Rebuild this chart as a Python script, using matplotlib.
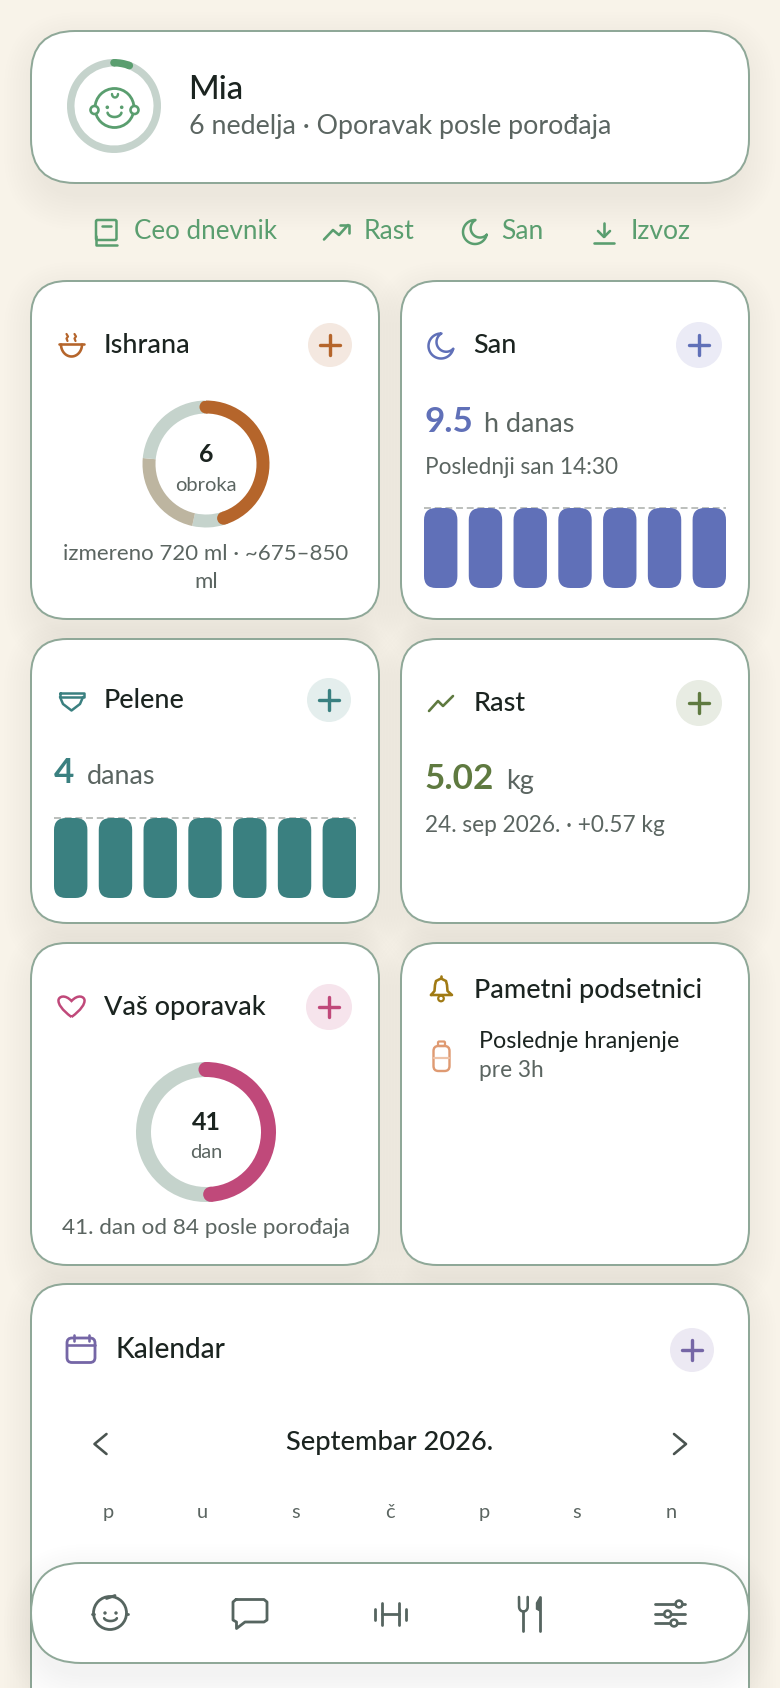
import numpy as np
import matplotlib
matplotlib.use('Agg')
import matplotlib.pyplot as plt
from matplotlib.patches import FancyBboxPatch, Circle, Polygon, PathPatch
from matplotlib.path import Path

W, H = 780, 1688
DPI = 100

# data
feed_parts = [0.45, 0.085, 0.23, 0.235]
feed_colors = ['#b5652b', '#c5d3cc', '#bdb5a0', '#c5d3cc']
feed_count = '6'
age_weeks = [6, 98]
recovery_days = [41, 43]
sleep_bars = [9.5, 9.5, 9.5, 9.5, 9.5, 9.5, 9.5]
sleep_goal = 9.5
diaper_bars = [4, 4, 4, 4, 4, 4, 4]
diaper_goal = 4
weekdays = ['p', 'u', 's', 'č', 'p', 's', 'n']
week_x = [108, 202, 296, 390, 484, 577, 671]

BG = '#f8f3e9'
BORDER = '#8fa898'
DARK = '#1b2420'
GREY = '#5b6561'
GREEN = '#5a9e6f'
ORANGE = '#b5652b'
BLUE = '#6070b8'
TEAL = '#3a8080'
OLIVE = '#5f7a40'
PINK = '#c0497a'
PURPLE = '#7566a6'
NAVICON = '#566560'
FONT = 'Lato'

fig = plt.figure(figsize=(W / DPI, H / DPI), dpi=DPI, facecolor=BG)
ax = fig.add_axes([0, 0, 1, 1])
ax.set_xlim(0, W)
ax.set_ylim(H, 0)
ax.axis('off')


def text(x, y, s, px, color=DARK, weight='normal', ha='left', z=5):
    ax.text(x, y, s, fontsize=px * 72 / DPI, color=color, fontweight=weight, ha=ha,
            va='baseline', family=FONT, zorder=z)


def line(xs, ys, color, lw=2.5, z=5, close=False):
    if close:
        xs = list(xs) + [xs[0]]
        ys = list(ys) + [ys[0]]
    ax.plot(xs, ys, color=color, lw=lw * 72 / DPI, solid_capstyle='round',
            solid_joinstyle='round', zorder=z)


def rrect(x0, y0, x1, y1, r, fc='none', ec='none', lw=0, z=5, alpha=None):
    p = FancyBboxPatch((x0, y0), x1 - x0, y1 - y0, boxstyle='round,pad=0,rounding_size=%g' % r,
                       fc=fc, ec=ec, lw=lw * 72 / DPI, zorder=z, alpha=alpha)
    ax.add_patch(p)


def card(x0, y0, x1, y1, r=36, z=2):
    # soft shadow made from stacked translucent boxes
    for s in range(0, 34, 3):
        rrect(x0 - s + 6, y0 - s + 14, x1 + s - 6, y1 + s + 14, r + s, fc='#6b5f3a', z=z - 0.5, alpha=0.004)
    rrect(x0, y0, x1, y1, r, fc='white', ec=BORDER, lw=2, z=z)


def plus(cx, cy, r, bg, color, z=5):
    ax.add_patch(Circle((cx, cy), r, fc=bg, ec='none', zorder=z))
    line([cx - 10, cx + 10], [cy, cy], color, 3.4, z + 0.1)
    line([cx, cx], [cy - 10, cy + 10], color, 3.4, z + 0.1)


def moon(cx, cy, R, color, lw=2.5):
    ix, iy = cx + 0.42 * R, cy - 0.32 * R
    r = 0.78 * R
    d = np.hypot(ix - cx, iy - cy)
    phi = np.arctan2(iy - cy, ix - cx)
    a = (R ** 2 - r ** 2 + d ** 2) / (2 * d)
    al = np.arccos(a / R)
    be = np.arccos((d - a) / r)
    t1 = np.linspace(phi + al, phi - al + 2 * np.pi, 60)
    t2 = np.linspace(phi + np.pi + be, phi + np.pi - be, 40)
    xs = np.r_[cx + R * np.cos(t1), ix + r * np.cos(t2)]
    ys = np.r_[cy + R * np.sin(t1), iy + r * np.sin(t2)]
    line(xs, ys, color, lw, close=True)


def inset(x0, y0, x1, y1):
    a = fig.add_axes([x0 / W, 1 - y1 / H, (x1 - x0) / W, (y1 - y0) / H])
    a.set_facecolor('none')
    a.axis('off')
    a.patch.set_alpha(0)
    return a


def donut(cx, cy, R, thick, parts, colors, cap_color=None, cap_to=None):
    a = inset(cx - R, cy - R, cx + R, cy + R)
    a.pie(parts, colors=colors, startangle=90, counterclock=False, radius=1,
          wedgeprops=dict(width=thick / R, linewidth=0))
    a.set_xlim(-1, 1)
    a.set_ylim(-1, 1)
    a.set_aspect('equal')
    mid = 1 - thick / R / 2
    for f in (0, cap_to):
        t = np.pi / 2 - 2 * np.pi * f
        a.add_patch(Circle((mid * np.cos(t), mid * np.sin(t)), thick / R / 2, fc=cap_color, ec='none', zorder=5))


def week_bars(x0, y0, x1, y1, values, goal, color):
    a = inset(x0, y0, x1, y1)
    bw = 33.4
    step = (x1 - x0 - bw) / 6
    half = bw / 2 / step
    days = np.arange(len(values))
    a.set_xlim(-half, 6 + half)
    a.set_ylim(0, goal)
    a.axhline(goal, color='#a9adaa', lw=1.1, ls=(0, (4.5, 2.5)), clip_on=False, zorder=1)
    bars = a.bar(days, values, width=2 * half, color=color)
    round_x = 12 / step
    aspect = (12 * goal / (y1 - y0)) / round_x
    for b in bars:
        a.add_patch(FancyBboxPatch((b.get_x(), b.get_y()), b.get_width(), b.get_height(),
                                   boxstyle='round,pad=0,rounding_size=%g' % round_x,
                                   mutation_aspect=aspect, fc=color, ec='none', zorder=3))
        b.remove()


# cards
card(31, 1284, 749, 1760, z=2)
card(31, 31, 749, 183, r=44)
card(31, 281, 379, 619)
card(401, 281, 749, 619)
card(31, 639, 379, 923)
card(401, 639, 749, 923)
card(31, 943, 379, 1265)
card(401, 943, 749, 1265)

# header
donut(114, 106, 47, 7.5, age_weeks, [GREEN, '#c5d3cc'], cap_color=GREEN, cap_to=age_weeks[0] / sum(age_weeks))
ax.add_patch(Circle((114.5, 108), 19.5, fc='white', ec=GREEN, lw=2.8 * 72 / DPI, zorder=5))
ax.add_patch(Circle((94.5, 110), 4, fc='white', ec=GREEN, lw=2.6 * 72 / DPI, zorder=5.1))
ax.add_patch(Circle((134.5, 110), 4, fc='white', ec=GREEN, lw=2.6 * 72 / DPI, zorder=5.1))
t = np.linspace(0, np.pi, 12)
line(115 + 3 * np.cos(t), 94 + 3.5 * np.sin(t), GREEN, 2.4)
ax.add_patch(Circle((107.3, 107.3), 1.8, fc=GREEN, zorder=5))
ax.add_patch(Circle((121.7, 107.3), 1.8, fc=GREEN, zorder=5))
t = np.linspace(0.15, np.pi - 0.15, 20)
line(114.5 + 7 * np.cos(t), 112 + 5 * np.sin(t), GREEN, 2.6)
text(188, 99, 'Mia', 33, DARK, 'medium')
text(189, 134, '6 nedelja · Oporavak posle porođaja', 26.8, GREY)

# quick links
text(134, 239, 'Ceo dnevnik', 26, GREEN)
text(364, 239, 'Rast', 26.5, GREEN)
text(501, 239, 'San', 26.5, GREEN)
text(631, 239, 'Izvoz', 26.5, GREEN)
rrect(96, 220, 116.5, 240, 1.5, ec=GREEN, lw=2.5)
line([96, 96, 116.5], [236, 244.5, 244.5], GREEN, 2.5)
line([102, 111], [226, 226], GREEN, 2.5)
line([324, 333, 339, 348], [239.5, 230, 235, 225], GREEN, 2.6)
line([340, 348.5, 348.5], [225, 225, 233], GREEN, 2.6)
moon(475, 232, 12, GREEN, 2.5)
line([604, 604], [223, 236], GREEN, 2.6)
line([598, 604, 610], [231, 237, 231], GREEN, 2.6)
line([594, 614], [242.5, 242.5], GREEN, 2.6)

# Ishrana
t = np.linspace(0, np.pi, 30)
line([58.5, 84], [344, 344], ORANGE, 2.6)
line(71.5 + 10.5 * np.cos(t), 344.5 + 12 * np.sin(t), ORANGE, 2.6)
for sx in (66.5, 74.5):
    line([sx, sx + 1.5, sx, sx + 1], [334, 336.5, 338.5, 341], ORANGE, 2.2)
text(104, 353, 'Ishrana', 27, DARK, 'medium')
plus(330, 345, 22, '#f4e8e0', ORANGE)
donut(206, 464, 63.5, 13, feed_parts, feed_colors, cap_color=ORANGE, cap_to=feed_parts[0])
text(206, 462, feed_count, 25, DARK, 'bold', ha='center')
text(206, 491, 'obroka', 20.2, GREY, ha='center')
text(206, 560, 'izmereno 720 ml · ~675–850', 22.3, GREY, ha='center')
text(206, 588, 'ml', 22.3, GREY, ha='center')

# San
moon(441, 346, 12.5, BLUE, 2.5)
text(473, 353, 'San', 27, DARK, 'medium')
plus(699, 345, 23, '#ebebf6', BLUE)
text(424, 432, '9.5', 35, BLUE, 'bold')
text(484, 432, 'h danas', 27, GREY)
text(425, 474, 'Poslednji san 14:30', 22.6, GREY)
week_bars(424, 508, 726, 588, sleep_bars, sleep_goal, BLUE)

# Pelene
line([59.5, 83.5, 83.5, 59.5], [692.5, 692.5, 697, 697], TEAL, 2.5, close=True)
line([60, 63, 71.5, 80, 83], [697, 704, 710.5, 704, 697], TEAL, 2.5)
text(104, 708, 'Pelene', 27, DARK, 'medium')
plus(329, 700, 22, '#e4eeed', TEAL)
text(54, 783, '4', 35, TEAL, 'bold')
text(87, 784, 'danas', 27, GREY)
week_bars(54, 818, 356, 898, diaper_bars, diaper_goal, TEAL)

# Rast
line([429, 438, 443, 453], [711, 701, 706, 696], OLIVE, 2.6)
text(474, 711, 'Rast', 27, DARK, 'medium')
plus(699, 703, 23, '#e8ece3', OLIVE)
text(425, 789, '5.02', 35, OLIVE, 'bold')
text(506, 789, 'kg', 27, GREY)
text(425, 832, '24. sep 2026. · +0.57 kg', 22.6, GREY)

# Vas oporavak
verts = [(71.5, 1017), (62, 1010), (58, 1004), (58.5, 1000), (59, 996.5), (65, 994), (71.5, 1001),
         (78, 994), (84, 996.5), (84.5, 1000), (85, 1004), (81, 1010), (71.5, 1017)]
codes = [Path.MOVETO] + [Path.CURVE4] * 12
ax.add_patch(PathPatch(Path(verts, codes), fc='none', ec=PINK, lw=2.5 * 72 / DPI, zorder=5))
text(104, 1014.5, 'Vaš oporavak', 27, DARK, 'medium')
plus(329, 1007, 23, '#f6e4ec', PINK)
donut(206, 1132, 70, 15, recovery_days, [PINK, '#c5d3cc'], cap_color=PINK, cap_to=recovery_days[0] / sum(recovery_days))
text(206, 1130, '41', 25, DARK, 'bold', ha='center')
text(206, 1158.5, 'dan', 20.2, GREY, ha='center')
text(206, 1234, '41. dan od 84 posle porođaja', 22.5, GREY, ha='center')

# Pametni podsetnici
BELL = '#a07a14'
bx = [431, 434.5, 435, 436, 441, 446, 447, 447.5, 452]
by = [995, 991, 985, 981, 978.5, 981, 985, 991, 995]
line(bx + [431], by + [995], BELL, 2.6)
line([441, 441], [975.5, 978], BELL, 2.6)
ax.add_patch(Circle((441, 998.5), 2.8, fc='white', ec=BELL, lw=2.2 * 72 / DPI, zorder=4.9))
text(474, 998, 'Pametni podsetnici', 27, DARK, 'medium')
BOTTLE = '#df9a72'
rrect(433.5, 1046, 449.5, 1071, 5, ec=BOTTLE, lw=2.4)
rrect(438, 1041.5, 445, 1046, 1.2, ec=BOTTLE, lw=2.2)
line([434, 449], [1057.5, 1057.5], '#eec3a8', 2.2)
text(479, 1047.5, 'Poslednje hranjenje', 23.2, DARK)
text(479, 1077, 'pre 3h', 22.6, GREY)

# Kalendar
rrect(67, 1338, 95, 1362.5, 5, ec=PURPLE, lw=2.8)
line([67, 95], [1345, 1345], PURPLE, 2.6)
line([73.5, 73.5], [1334.5, 1341], PURPLE, 2.6)
line([88.5, 88.5], [1334.5, 1341], PURPLE, 2.6)
text(115, 1358.5, 'Kalendar', 28, DARK, 'medium')
plus(692, 1350, 22, '#ece9f3', PURPLE)
line([106.5, 94.5, 106.5], [1434, 1444, 1454], '#4a5450', 2.6)
line([674, 686, 674], [1434, 1444, 1454], '#4a5450', 2.6)
text(390, 1450, 'Septembar 2026.', 27.3, DARK, 'medium', ha='center')
for wx, wd in zip(week_x, weekdays):
    text(wx, 1518, wd, 20, GREY, ha='center')

# bottom navigation
card(31, 1563, 749, 1663, r=50, z=7)
nz = 8
ax.add_patch(Circle((110, 1613), 16.5, fc='none', ec=NAVICON, lw=2.8 * 72 / DPI, zorder=nz))
line([106.5, 111, 115], [1598.5, 1597, 1595.5], NAVICON, 2.8, nz)
ax.add_patch(Circle((105, 1613), 1.7, fc=NAVICON, zorder=nz))
ax.add_patch(Circle((116, 1613), 1.7, fc=NAVICON, zorder=nz))
t = np.linspace(0.2, np.pi - 0.2, 16)
line(110.5 + 6.5 * np.cos(t), 1617.5 + 3.5 * np.sin(t), NAVICON, 2.6, nz)
line([92, 94], [1613.5, 1613.5], NAVICON, 2.8, nz)
line([126, 128], [1613.5, 1613.5], NAVICON, 2.8, nz)
line([236, 264, 267, 267, 264, 245, 236.5, 236.5, 233, 233, 236],
     [1599.5, 1599.5, 1602, 1620, 1622, 1622, 1628.5, 1622, 1620, 1602, 1599.5], NAVICON, 2.8, nz)
line([375, 375], [1609, 1620], NAVICON, 2.8, nz)
line([382, 382], [1603, 1625], NAVICON, 2.8, nz)
line([398.5, 398.5], [1603, 1625], NAVICON, 2.8, nz)
line([405.5, 405.5], [1609, 1620], NAVICON, 2.8, nz)
line([382, 398.5], [1614, 1614], NAVICON, 2.8, nz)
t = np.linspace(0, np.pi, 10)
line(np.r_[527.7, 523.4 + 4.3 * np.cos(t), 519], np.r_[1597, 1607 + 4.5 * np.sin(t), 1597], NAVICON, 2.6, nz)
line([523.4, 523.4], [1611, 1631], NAVICON, 2.8, nz)
line([540, 540], [1597, 1631], NAVICON, 2.8, nz)
ax.add_patch(Polygon([(540, 1597), (536.5, 1603), (536.5, 1609), (540, 1611)], fc=NAVICON, ec=NAVICON, lw=1, zorder=nz))
line([654.5, 685], [1604, 1604], NAVICON, 2.8, nz)
line([654.5, 685], [1614, 1614], NAVICON, 2.8, nz)
line([654.5, 685], [1623, 1623], NAVICON, 2.8, nz)
for sx, sy in [(679, 1604), (667.7, 1614), (674, 1623)]:
    ax.add_patch(Circle((sx, sy), 3.4, fc='white', ec=NAVICON, lw=2.6 * 72 / DPI, zorder=nz + 0.1))

fig.savefig('out.png', dpi=DPI, facecolor=BG)
